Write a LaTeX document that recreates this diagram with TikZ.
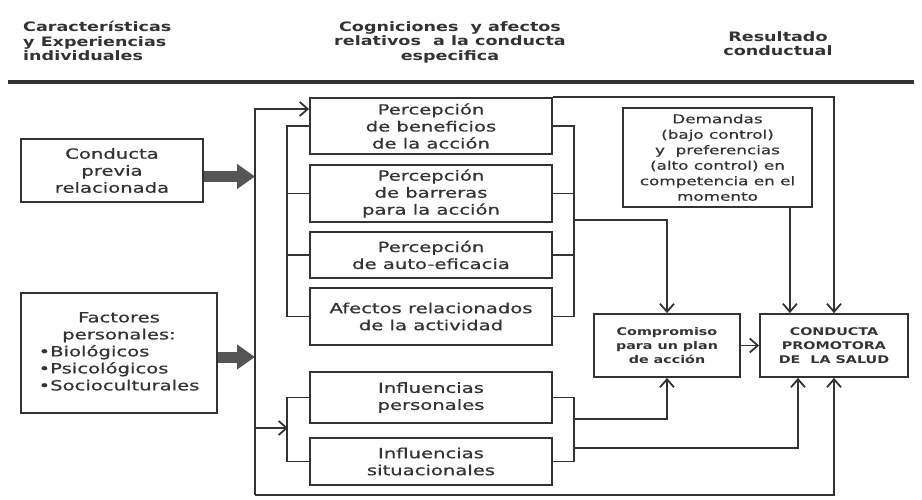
\documentclass[tikz,border=0pt]{standalone}
\usepackage{fontspec}
\setmainfont{DejaVu Sans}[FakeStretch=1.35]
\newfontfamily\cajafont{DejaVu Sans}[FakeStretch=1.4,FakeBold=0.7]
\usetikzlibrary{arrows.meta}
\definecolor{linea}{HTML}{333333}
\definecolor{flecha}{HTML}{555555}
\tikzset{
	caja/.style={draw=linea,line width=1.8pt,align=center,inner sep=0pt,text=linea,font=\cajafont\fontsize{14}{17}\selectfont},
	cajab/.style={caja,font=\bfseries\fontsize{10.6}{13.8}\selectfont},
	encab/.style={inner sep=0pt,text=linea,align=center,font=\bfseries\fontsize{13}{14.5}\selectfont},
	conec/.style={draw=linea,line width=1.8pt},
	gruesa/.style={draw=flecha,line width=11pt,-{Triangle[length=18pt,width=24pt]}}
}
\begin{document}
\begin{tikzpicture}[x=1pt,y=-1pt,>={Straight Barb[length=8pt,width=14pt]}]
		\useasboundingbox (0,0) rectangle (922,500);
		% encabezados
		\node[encab,anchor=north west,align=left] (carac) at (23,21) {Características\\y Experiencias\\individuales};
		\node[encab,anchor=north] (cogn) at (450,21) {Cogniciones\ \ y afectos\\relativos\ \ a la conducta\\especifica};
		\node[encab,anchor=north] (result) at (778,31) {Resultado\\conductual};
		\draw[linea,line width=4pt] (8,82) -- (914,82);
		% cajas
		\node[caja,minimum width=182pt,minimum height=63pt] (previa) at (112,170.5) {Conducta\\previa\\relacionada};
		\node[caja,minimum width=196pt,minimum height=120pt] (factores) at (119,353) {\begin{tabular}{@{}l@{}}\multicolumn{1}{@{}c@{}}{Factores}\\\multicolumn{1}{@{}c@{}}{personales:}\\•Biológicos\\•Psicológicos\\•Socioculturales\end{tabular}};
		\node[caja,minimum width=242pt,minimum height=56pt] (benef) at (431,126) {Percepción\\de beneficios\\de la acción};
		\node[caja,minimum width=242pt,minimum height=57pt] (barr) at (431,193.5) {Percepción\\de barreras\\para la acción};
		\node[caja,minimum width=242pt,minimum height=46pt] (autoef) at (431,255) {Percepción\\de auto-eficacia};
		\node[caja,minimum width=242pt,minimum height=57pt] (afect) at (431,316.5) {Afectos relacionados\\de la actividad};
		\node[caja,minimum width=242pt,minimum height=51pt] (inflp) at (431,397.5) {Influencias\\personales};
		\node[caja,minimum width=242pt,minimum height=47pt] (infls) at (431,461.5) {Influencias\\situacionales};
		\node[caja,minimum width=189pt,minimum height=99pt,font=\cajafont\fontsize{12}{15.5}\selectfont] (demandas) at (717.5,157.5) {Demandas\\(bajo control)\\y\ \ preferencias\\(alto control) en\\competencia en el\\momento};
		\node[cajab,minimum width=146pt,minimum height=63pt] (compromiso) at (667,345.5) {Compromiso\\para un plan\\de acción};
		\node[cajab,minimum width=148pt,minimum height=63pt] (salud) at (834,345.5) {CONDUCTA\\PROMOTORA\\DE\ \ LA SALUD};
		% buses
		\coordinate (busA) at (255,109);
		\coordinate (busB) at (255,495);
		\coordinate (jB) at (573,220);
		\coordinate (jL) at (288,428);
		\coordinate (jP) at (573,419);
		\coordinate (jS) at (573,448);
		\draw[gruesa] ([yshift=-6pt]previa.east) -- ([yshift=-6pt]previa.east -| busA);
		\draw[gruesa] ([yshift=-4pt]factores.east) -- ([yshift=-4pt]factores.east -| busA);
		\draw[conec,->] (busB) -- (busA) -- (busA -| benef.west);
		\draw[conec,->] (busB) -| (salud.south);
		\draw[conec,->] (busA |- jL) -- (jL);
		\draw[conec] (benef.west) -- ++(-22,0) |- (afect.west);
		\draw[conec] (barr.west) -- ++(-22,0);
		\draw[conec] (autoef.west) -- ++(-22,0);
		\draw[conec] (benef.east) -- ++(21,0) |- (afect.east);
		\draw[conec] (barr.east) -- ++(21,0);
		\draw[conec] (autoef.east) -- ++(21,0);
		\draw[conec] (inflp.west) -- ++(-22,0) |- (infls.west);
		\draw[conec] (inflp.east) -- ++(21,0) |- (infls.east);
		\draw[conec,->] (jB) -| (compromiso.north);
		\draw[conec,->] (jP) -| (compromiso.south);
		\draw[conec,->] (jS) -| ([xshift=-36pt]salud.south);
		\draw[conec,->] (benef.north east) -| (salud.north);
		\draw[conec,->] ([xshift=-23pt]demandas.south east) -- ([xshift=-23pt]demandas.south east |- salud.north);
		\draw[conec,->] (compromiso.east) -- (salud.west);
\end{tikzpicture}
\end{document}
